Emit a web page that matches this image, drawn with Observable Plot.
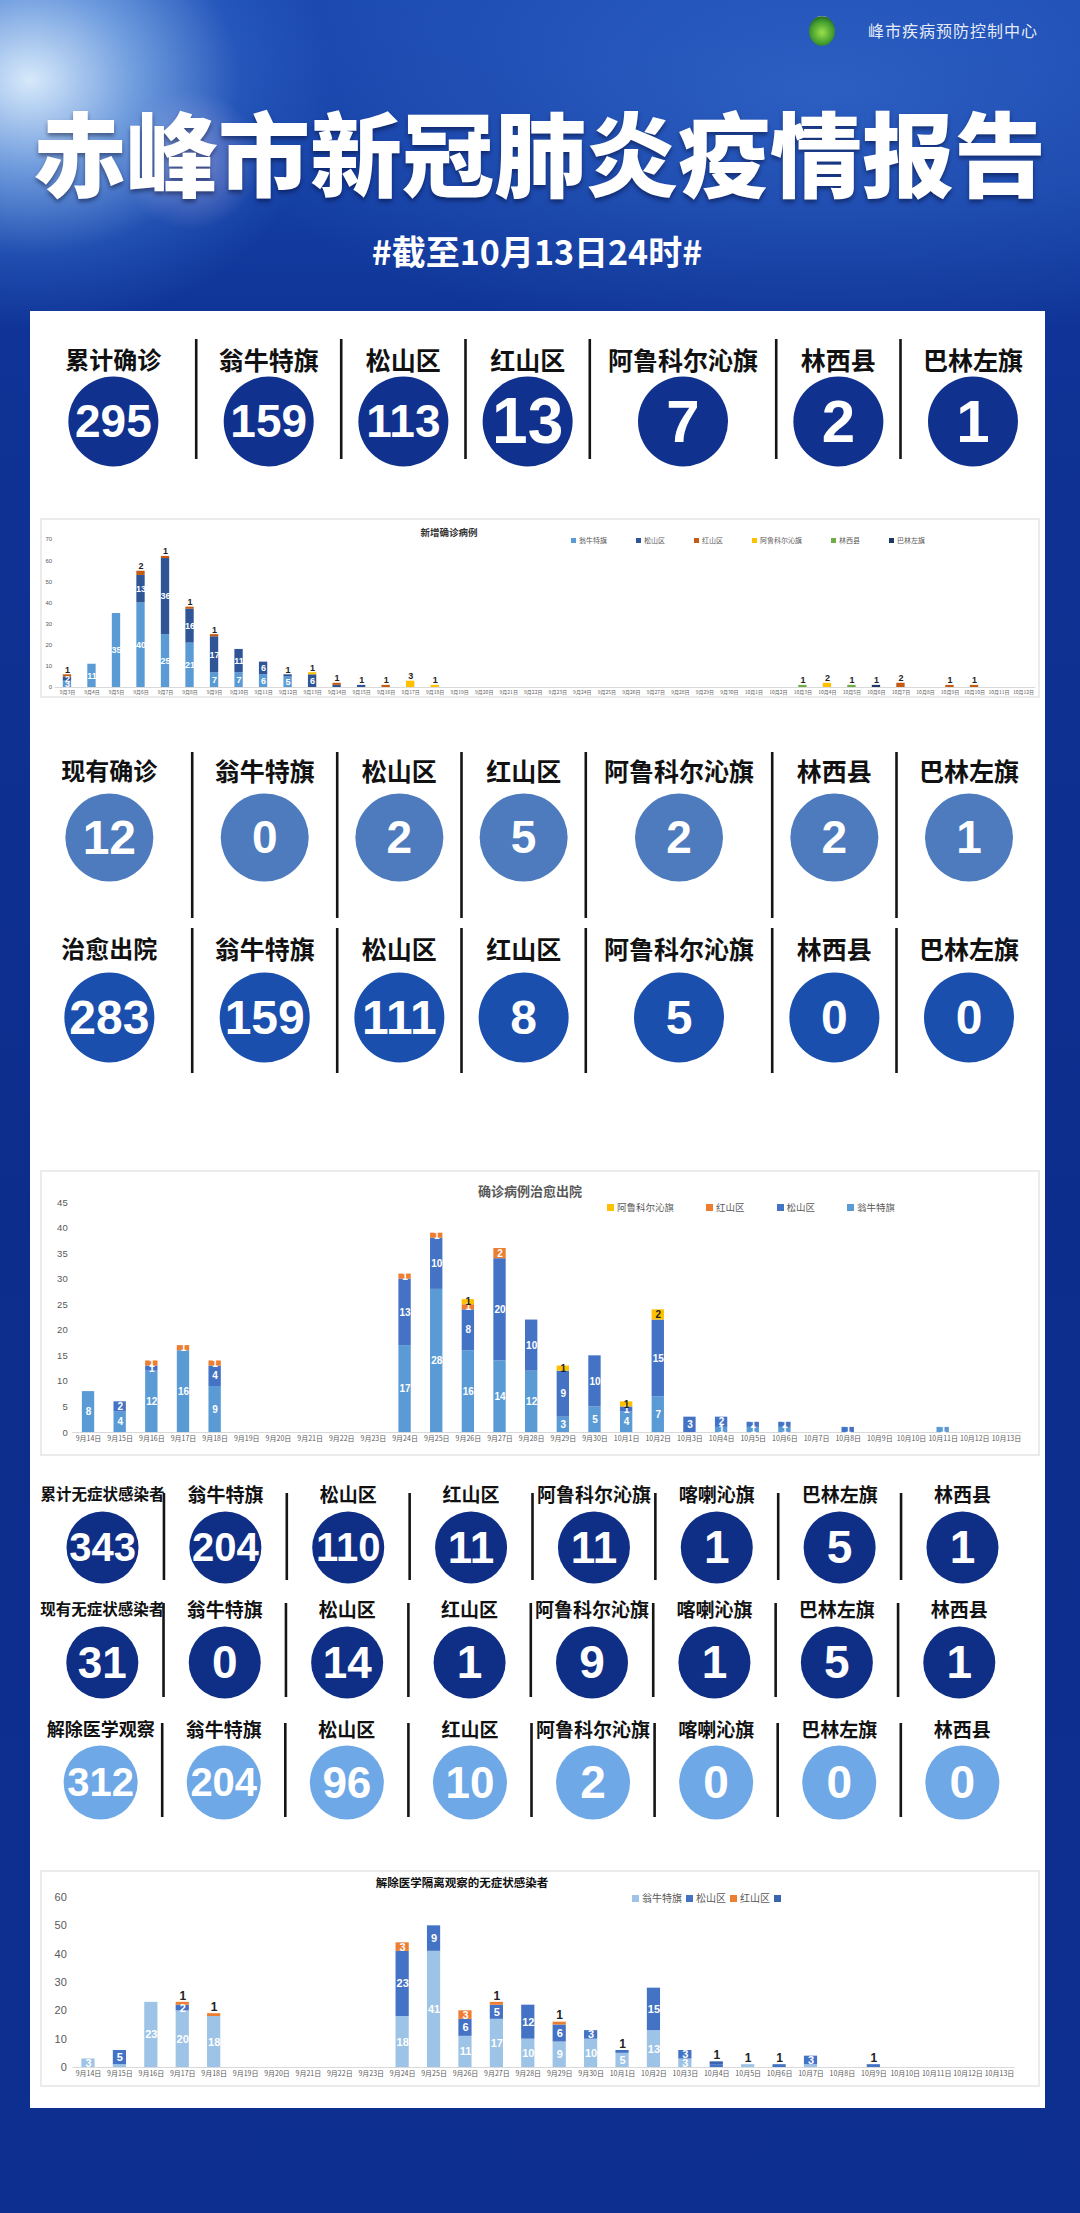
<!DOCTYPE html>
<html>
<head>
<meta charset="utf-8">
<script src="https://cdn.jsdelivr.net/npm/d3@7"></script>
<script src="https://cdn.jsdelivr.net/npm/@observablehq/plot@0.6"></script>
<style>
html,body{margin:0;padding:0}
body{width:1080px;height:2213px;position:relative;overflow:hidden;
 font-family:"Noto Sans CJK SC","Noto Sans",sans-serif;
 background:
  radial-gradient(ellipse 300px 250px at 30px 80px, rgba(225,242,255,0.95) 0%, rgba(150,195,245,0.7) 35%, rgba(70,130,225,0.28) 70%, rgba(20,70,180,0) 100%),
  radial-gradient(circle 70px at 190px 160px, rgba(255,215,235,0.5), rgba(255,200,225,0) 100%),
  radial-gradient(ellipse 620px 260px at 820px 90px, rgba(80,140,235,0.38), rgba(20,70,180,0) 100%),
  linear-gradient(180deg, #1846ad 0px, #143ea2 200px, #0f3396 330px, #0c2d8c 1200px, #0d2f90 2213px);
}
#panel{position:absolute;left:30px;top:311px;width:1015px;height:1797px;background:#fff}
#title{position:absolute;left:0;top:104px;width:1080px;text-align:center;color:#fff;font-size:92px;line-height:92px;font-weight:900;text-shadow:0 3px 4px rgba(0,0,30,0.45)}
#subtitle{position:absolute;left:0;top:232px;width:1074px;text-align:center;color:#fff;font-size:34px;line-height:38px;font-weight:700}
#logo{position:absolute;left:809px;top:16px;width:26px;height:30px;border-radius:50%;background:radial-gradient(circle at 50% 55%, #9be04a 0, #3f9a2e 55%, #2a6b25 75%, #ffffff 80%, #d8f0d0 100%)}
#org{position:absolute;left:868px;top:20px;color:rgba(255,255,255,0.9);font-size:16px;line-height:20px;letter-spacing:1px}
.box{position:absolute;left:42px;width:996px;outline:2px solid #ebebeb;background:#fff}
.ctitle{position:absolute;white-space:nowrap;font-weight:700;transform:translate(-50%,-50%)}
.legend{position:absolute;display:flex;align-items:center;white-space:nowrap}
.legend .item{display:flex;align-items:center}
.legend .sq{display:inline-block;margin-right:3px}
.plotwrap{position:absolute}
svg{overflow:visible}
</style>
</head>
<body>
<div id="logo"></div>
<div id="org">峰市疾病预防控制中心</div>
<div id="title">赤峰市新冠肺炎疫情报告</div>
<div id="subtitle">#截至10月13日24时#</div>
<div id="panel"></div>

<script>
// ---------------- DATA ----------------
const confirmedLabels = ["累计确诊","翁牛特旗","松山区","红山区","阿鲁科尔沁旗","林西县","巴林左旗"];
const confirmedValues = [295,159,113,13,7,2,1];
const currentLabels = ["现有确诊","翁牛特旗","松山区","红山区","阿鲁科尔沁旗","林西县","巴林左旗"];
const currentValues = [12,0,2,5,2,2,1];
const curedLabels = ["治愈出院","翁牛特旗","松山区","红山区","阿鲁科尔沁旗","林西县","巴林左旗"];
const curedValues = [283,159,111,8,5,0,0];

const asymTotalLabels = ["累计无症状感染者","翁牛特旗","松山区","红山区","阿鲁科尔沁旗","喀喇沁旗","巴林左旗","林西县"];
const asymTotalValues = [343,204,110,11,11,1,5,1];
const asymCurrentLabels = ["现有无症状感染者","翁牛特旗","松山区","红山区","阿鲁科尔沁旗","喀喇沁旗","巴林左旗","林西县"];
const asymCurrentValues = [31,0,14,1,9,1,5,1];
const releasedLabels = ["解除医学观察","翁牛特旗","松山区","红山区","阿鲁科尔沁旗","喀喇沁旗","巴林左旗","林西县"];
const releasedValues = [312,204,96,10,2,0,0,0];

// Chart 1: 新增确诊病例
const newCaseDates = ["9月3日","9月4日","9月5日","9月6日","9月7日","9月8日","9月9日","9月10日","9月11日","9月12日",
 "9月13日","9月14日","9月15日","9月16日","9月17日","9月18日","9月19日","9月20日","9月21日","9月22日",
 "9月23日","9月24日","9月25日","9月26日","9月27日","9月28日","9月29日","9月30日","10月1日","10月2日",
 "10月3日","10月4日","10月5日","10月6日","10月7日","10月8日","10月9日","10月10日","10月11日","10月12日"];
const newCaseSeries = ["翁牛特旗","松山区","红山区","阿鲁科尔沁旗","林西县","巴林左旗"];
const newWeng  = [3,11,35,40,25,21,7,7,6,5, 0,0,0,0,0,0,0,0,0,0, 0,0,0,0,0,0,0,0,0,0, 0,0,0,0,0,0,0,0,0,0];
const newSong  = [2,0,0,13,36,16,17,11,6,1, 6,1,1,0,0,0,0,0,0,0, 0,0,0,0,0,0,0,0,0,0, 0,0,0,0,0,0,0,0,0,0];
const newHong  = [1,0,0,2,1,1,1,0,0,0, 0,1,0,1,0,0,0,0,0,0, 0,0,0,0,0,0,0,0,0,0, 0,0,0,0,2,0,1,1,0,0];
const newAlu   = [0,0,0,0,0,0,0,0,0,0, 1,0,0,0,3,1,0,0,0,0, 0,0,0,0,0,0,0,0,0,0, 0,2,0,0,0,0,0,0,0,0];
const newLinxi = [0,0,0,0,0,0,0,0,0,0, 0,0,0,0,0,0,0,0,0,0, 0,0,0,0,0,0,0,0,0,0, 1,0,1,0,0,0,0,0,0,0];
const newBalin = [0,0,0,0,0,0,0,0,0,0, 0,0,0,0,0,0,0,0,0,0, 0,0,0,0,0,0,0,0,0,0, 0,0,0,1,0,0,0,0,0,0];
const newCaseTicks = [0,10,20,30,40,50,60,70];

// Chart 2: 确诊病例治愈出院
const recDates = ["9月14日","9月15日","9月16日","9月17日","9月18日","9月19日","9月20日","9月21日","9月22日","9月23日",
 "9月24日","9月25日","9月26日","9月27日","9月28日","9月29日","9月30日","10月1日","10月2日","10月3日",
 "10月4日","10月5日","10月6日","10月7日","10月8日","10月9日","10月10日","10月11日","10月12日","10月13日"];
const curedSeries = ["翁牛特旗","松山区","红山区","阿鲁科尔沁旗"];
const curedWeng = [8,4,12,16,9, 0,0,0,0,0, 17,28,16,14,12, 3,5,4,7,0, 1,1,1,0,0, 0,0,1,0,0];
const curedSong = [0,2,1,0,4, 0,0,0,0,0, 13,10,8,20,10, 9,10,1,15,3, 2,1,1,0,1, 0,0,0,0,0];
const curedHong = [0,0,1,1,1, 0,0,0,0,0, 1,1,1,2,0, 0,0,0,0,0, 0,0,0,0,0, 0,0,0,0,0];
const curedAlu  = [0,0,0,0,0, 0,0,0,0,0, 0,0,1,0,0, 1,0,1,2,0, 0,0,0,0,0, 0,0,0,0,0];
const curedTicks = [0,5,10,15,20,25,30,35,40,45];
const curedLegendOrder = ["阿鲁科尔沁旗","红山区","松山区","翁牛特旗"];

// Chart 3: 解除医学隔离观察的无症状感染者
const relSeries = ["翁牛特旗","松山区","红山区","阿鲁科尔沁旗"];
const relLegendLabels = ["翁牛特旗","松山区","红山区",""];
const relWeng = [3,1,23,20,18, 0,0,0,0,0, 18,41,11,17,10, 9,10,5,13,3, 0,1,0,1,0, 0,0,0,0,0];
const relSong = [0,5,0,2,0, 0,0,0,0,0, 23,9,6,5,12, 6,3,1,15,3, 1,0,1,3,0, 1,0,0,0,0];
const relHong = [0,0,0,1,1, 0,0,0,0,0, 3,0,3,1,0, 1,0,0,0,0, 0,0,0,0,0, 0,0,0,0,0];
const relAlu  = [0,0,0,0,0, 0,0,0,0,0, 0,0,0,0,0, 0,0,0,0,0, 1,0,0,0,0, 0,0,0,0,0];
const relTicks = [0,10,20,30,40,50,60];

// ---------------- HELPERS ----------------
const CJK = "'Noto Sans CJK SC','Noto Sans',sans-serif";
const NUMF = "'Liberation Sans',Arial,sans-serif";

function place(node, left, top) {
  const w = document.createElement("div");
  w.className = "plotwrap";
  w.style.left = left + "px";
  w.style.top = top + "px";
  w.appendChild(node);
  document.body.appendChild(w);
  return w;
}

// column layout: each column's width follows a weight derived from its label
function statRow(cfg) {
  const n = cfg.labels.length;
  const idx = d3.range(n);
  const weights = cfg.labels.map(cfg.weight);
  const starts = [0, ...d3.cumsum(weights)];
  const total = starts[n];
  const centers = idx.map(i => starts[i] + weights[i] / 2);
  const seps = d3.range(1, n).map(i => starts[i]);
  const svg = Plot.plot({
    width: 1015, height: cfg.height,
    marginTop: 0, marginBottom: 0, marginLeft: 0, marginRight: 0,
    style: {background: "transparent", overflow: "visible", fontFamily: CJK},
    x: {domain: [0, total], range: cfg.range, axis: null},
    marks: [
      Plot.ruleX(seps, {stroke: "#151515", strokeWidth: 2.6,
        insetTop: cfg.ruleTop, insetBottom: cfg.ruleBottom}),
      Plot.text(idx, {x: i => centers[i], text: i => cfg.labels[i], frameAnchor: "top", lineAnchor: "middle",
        dy: cfg.labelY, fontSize: i => i === 0 ? cfg.firstLabelSize : cfg.labelSize, fontWeight: 700,
        fill: "#111", fontFamily: CJK}),
      Plot.dot(idx, {x: i => centers[i], frameAnchor: "top", dy: cfg.circleY, r: cfg.r, fill: cfg.color, stroke: "none"}),
      Plot.text(idx, {x: i => centers[i], text: i => String(cfg.values[i]), frameAnchor: "top", lineAnchor: "middle",
        dy: cfg.circleY + 1, fill: "#fff", fontFamily: NUMF, fontWeight: 700,
        fontSize: i => cfg.numSize[String(cfg.values[i]).length - 1]})
    ]
  });
  place(svg, 30, cfg.top);
}

function stackRows(dates, names, values) {
  const rows = [];
  dates.forEach((d, i) => {
    let acc = 0;
    const segs = [];
    names.forEach((s, k) => {
      const v = values[k][i];
      if (v > 0) { segs.push({date: d, series: s, value: v, y1: acc, y2: acc + v}); acc += v; }
    });
    segs.forEach((g, j) => { g.top = j === segs.length - 1; });
    rows.push(...segs);
  });
  return rows;
}

function barChart(cfg) {
  const rows = stackRows(cfg.dates, cfg.series, cfg.values);
  const k = (cfg.height - cfg.mt - cfg.mb) / cfg.yMax;
  const isAbove = r => r.top && r.value * k < cfg.aboveMax;
  const inside = rows.filter(r => r.value * k >= cfg.insideMin && !isAbove(r));
  const above = rows.filter(isAbove);
  const darkText = r => r.series === cfg.yellowSeries;
  const svg = Plot.plot({
    width: 996, height: cfg.height,
    marginTop: cfg.mt, marginBottom: cfg.mb, marginLeft: cfg.ml, marginRight: cfg.mr,
    style: {background: "transparent", overflow: "visible", fontFamily: CJK},
    x: {type: "band", domain: cfg.dates, paddingInner: cfg.pad, paddingOuter: cfg.pad / 2, round: false},
    y: {domain: [0, cfg.yMax]},
    color: {domain: cfg.series, range: cfg.colors},
    marks: [
      Plot.axisX({fontSize: cfg.xFont, tickSize: 0, tickPadding: cfg.xPad, color: "#595959", label: null, fontFamily: CJK}),
      Plot.axisY(cfg.ticks, {fontSize: cfg.yFont, tickSize: 0, tickPadding: cfg.yPad, color: "#595959", label: null, fontFamily: NUMF}),
      Plot.ruleY([0], {stroke: "#d9d9d9", strokeWidth: 1}),
      Plot.barY(rows, {x: "date", y1: "y1", y2: "y2", fill: "series"}),
      Plot.text(inside.filter(r => !darkText(r)), {x: "date", y: r => (r.y1 + r.y2) / 2, text: "value",
        fill: "#fff", fontWeight: 700, fontSize: cfg.inFont, fontFamily: NUMF}),
      Plot.text(inside.filter(darkText), {x: "date", y: r => (r.y1 + r.y2) / 2, text: "value",
        fill: "#222", fontWeight: 700, fontSize: cfg.inFont, fontFamily: NUMF}),
      Plot.text(above, {x: "date", y: "y2", dy: -cfg.aboveFont * 0.55, text: "value",
        fill: "#222", fontWeight: 700, fontSize: cfg.aboveFont, fontFamily: NUMF})
    ]
  });
  const box = document.createElement("div");
  box.className = "box";
  box.style.top = cfg.top + "px";
  box.style.height = cfg.height + "px";
  box.appendChild(svg);
  document.body.appendChild(box);
}

function chartTitle(text, cx, cy, size, color) {
  const d = document.createElement("div");
  d.className = "ctitle";
  d.textContent = text;
  d.style.left = cx + "px"; d.style.top = cy + "px";
  d.style.fontSize = size + "px"; d.style.color = color;
  document.body.appendChild(d);
}

function legend(labels, colors, o) {
  const d = document.createElement("div");
  d.className = "legend";
  d.style.left = o.left + "px"; d.style.top = o.top + "px";
  d.style.fontSize = o.fontSize + "px"; d.style.color = o.color; d.style.gap = o.gap + "px";
  d.style.lineHeight = (o.fontSize + 2) + "px";
  labels.forEach((t, i) => {
    const it = document.createElement("span"); it.className = "item";
    const sq = document.createElement("span"); sq.className = "sq";
    sq.style.width = o.sq + "px"; sq.style.height = o.sq + "px"; sq.style.background = colors[i];
    const tx = document.createElement("span"); tx.textContent = t;
    it.appendChild(sq); it.appendChild(tx); d.appendChild(it);
  });
  document.body.appendChild(d);
}

// ---------------- STAT ROWS ----------------
const wideWeight = (l, i) => 3 + l.length + (i === 0 ? 1 : 0);   // column width follows label length
const evenWeight = () => 1;

statRow({labels: confirmedLabels, values: confirmedValues, top: 330, height: 140, weight: wideWeight, range: [0, 1015],
  labelY: 31, circleY: 91, r: 45, labelSize: 25, firstLabelSize: 24, ruleTop: 9, ruleBottom: 11,
  numSize: [60, 64, 46], color: "#10318d"});
statRow({labels: currentLabels, values: currentValues, top: 740, height: 190, weight: wideWeight, range: [-4, 1011],
  labelY: 32, circleY: 97, r: 44, labelSize: 25, firstLabelSize: 24, ruleTop: 12, ruleBottom: 12,
  numSize: [46, 48, 46], color: "#4d7bbd"});
statRow({labels: curedLabels, values: curedValues, top: 920, height: 160, weight: wideWeight, range: [-4, 1011],
  labelY: 30, circleY: 97, r: 45, labelSize: 25, firstLabelSize: 24, ruleTop: 8, ruleBottom: 7,
  numSize: [48, 48, 48], color: "#1a4fad"});

statRow({labels: asymTotalLabels, values: asymTotalValues, top: 1480, height: 110, weight: evenWeight, range: [10.6, 993.4],
  labelY: 15, circleY: 67, r: 36, labelSize: 19, firstLabelSize: 15.5, ruleTop: 13, ruleBottom: 10,
  numSize: [46, 44, 40], color: "#0f2f87"});
statRow({labels: asymCurrentLabels, values: asymCurrentValues, top: 1595, height: 110, weight: evenWeight, range: [10.6, 990],
  labelY: 15, circleY: 67, r: 36, labelSize: 19, firstLabelSize: 15.5, ruleTop: 8, ruleBottom: 8,
  numSize: [46, 44, 40], color: "#0f2f87"});
statRow({labels: releasedLabels, values: releasedValues, top: 1715, height: 115, weight: evenWeight, range: [8.6, 993.4],
  labelY: 15, circleY: 67, r: 37, labelSize: 19, firstLabelSize: 18, ruleTop: 8, ruleBottom: 13,
  numSize: [46, 44, 40], color: "#6fa8e6"});

// ---------------- CHARTS ----------------
const newCaseColors = ["#5b9bd5", "#2f5597", "#c55a11", "#ffc000", "#70ad47", "#203864"];
barChart({dates: newCaseDates, series: newCaseSeries,
  values: [newWeng, newSong, newHong, newAlu, newLinxi, newBalin], colors: newCaseColors,
  top: 520, height: 176, mt: 19, mb: 9, ml: 12.7, mr: 2.7, pad: 0.66, yMax: 70, ticks: newCaseTicks,
  xFont: 5, xPad: 3, yFont: 6, yPad: 3, inFont: 9, aboveFont: 9, insideMin: 4, aboveMax: 10,
  yellowSeries: "阿鲁科尔沁旗"});
chartTitle("新增确诊病例", 449, 532, 9.5, "#333");
legend(newCaseSeries, newCaseColors, {left: 571, top: 536, fontSize: 7, color: "#595959", gap: 29, sq: 5});

const curedColors = ["#5b9bd5", "#4472c4", "#ed7d31", "#ffc000"];
barChart({dates: recDates, series: curedSeries,
  values: [curedWeng, curedSong, curedHong, curedAlu], colors: curedColors,
  top: 1172, height: 282, mt: 30, mb: 22, ml: 30.2, mr: 16.2, pad: 0.61, yMax: 45, ticks: curedTicks,
  xFont: 7, xPad: 4, yFont: 9.5, yPad: 5, inFont: 10, aboveFont: 10, insideMin: 4, aboveMax: 0,
  yellowSeries: "阿鲁科尔沁旗"});
chartTitle("确诊病例治愈出院", 530, 1190, 13, "#595959");
legend(curedLegendOrder, curedLegendOrder.map(s => curedColors[curedSeries.indexOf(s)]),
  {left: 607, top: 1202, fontSize: 9.5, color: "#595959", gap: 32, sq: 7});

const relColors = ["#9dc3e6", "#4472c4", "#ed7d31", "#3a64b0"];
barChart({dates: recDates, series: relSeries,
  values: [relWeng, relSong, relHong, relAlu], colors: relColors,
  top: 1872, height: 213, mt: 25, mb: 18, ml: 30.3, mr: 23.3, pad: 0.58, yMax: 60, ticks: relTicks,
  xFont: 7, xPad: 4, yFont: 11, yPad: 6, inFont: 11, aboveFont: 12, insideMin: 5, aboveMax: 7,
  yellowSeries: null});
chartTitle("解除医学隔离观察的无症状感染者", 462, 1882, 11.5, "#111");
legend(relLegendLabels, relColors, {left: 632, top: 1892, fontSize: 10, color: "#595959", gap: 4, sq: 7});
</script>
</body>
</html>
